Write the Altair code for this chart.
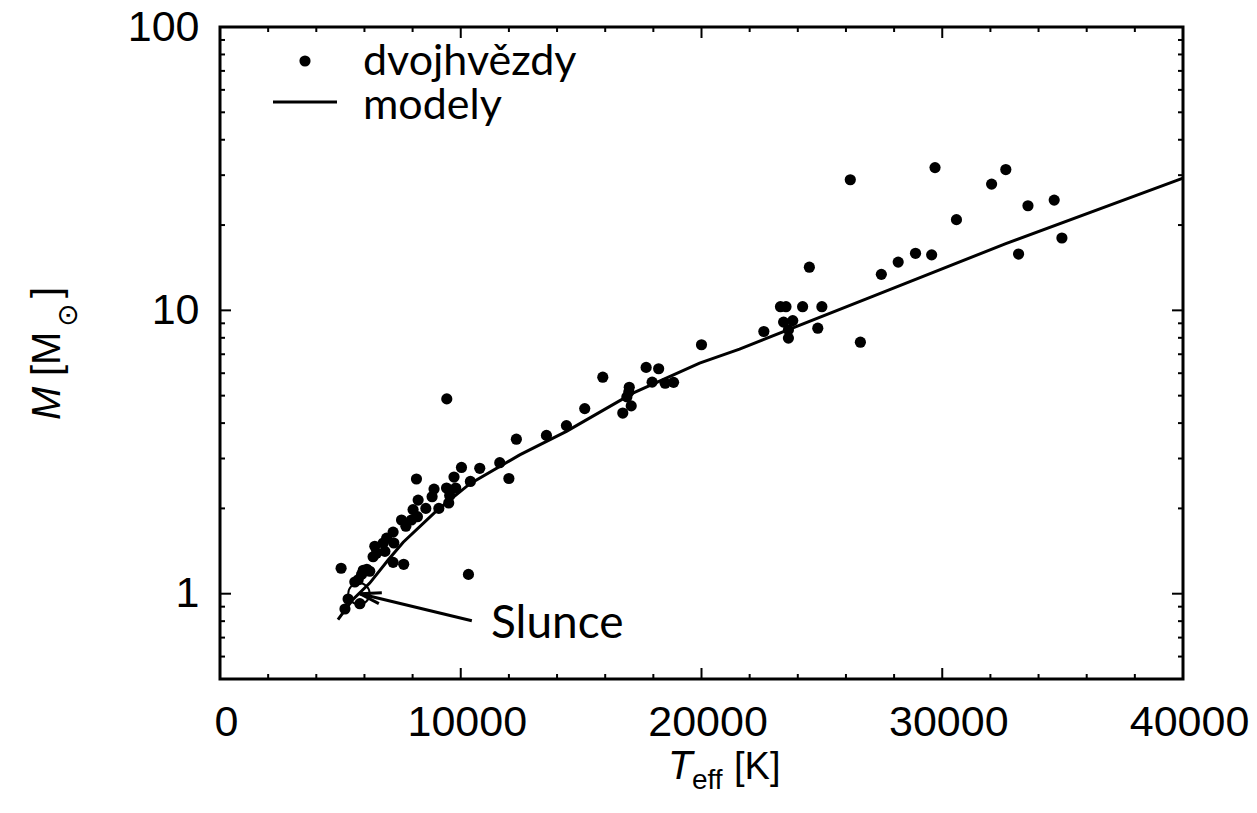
import altair as alt
import pandas as pd

# ---------------- data ----------------
T_STARS = [22590, 23280, 23510, 24200, 25000, 23410, 23790, 23610, 23610, 24830,
           24480, 26600, 26180, 27470, 28170, 28890, 29560, 29700, 30590, 32050,
           32640, 33170, 33560, 34650, 34970,
           20000, 17700, 18220, 17950, 18490, 18840, 15900, 16730, 17080, 16900,
           16980, 17000, 15150, 14390, 13560, 12310, 11620, 12000, 10790, 10030,
           9420, 10320,
           8160, 9720, 10400, 8890, 9410, 9790, 8230, 8810, 9540, 9500,
           8550, 9090, 8020, 8200, 7950, 7540, 7720, 7190, 6920, 7220,
           6780, 6430, 6500, 6850, 6360, 7190, 7630, 5030, 6220, 5950,
           5880, 5740, 5320, 5810, 5190, 5600, 6100]
M_STARS = [8.42, 10.3, 10.3, 10.3, 10.3, 9.09, 9.2, 8.53, 7.98, 8.65,
           14.2, 7.72, 28.9, 13.4, 14.8, 15.9, 15.7, 31.9, 20.9, 27.9,
           31.4, 15.8, 23.4, 24.5, 18.0,
           7.56, 6.29, 6.22, 5.58, 5.53, 5.57, 5.81, 4.34, 4.6, 4.95,
           5.15, 5.35, 4.5, 3.92, 3.62, 3.51, 2.9, 2.55, 2.77, 2.79,
           4.87, 1.17,
           2.54, 2.58, 2.49, 2.34, 2.36, 2.36, 2.14, 2.2, 2.22, 2.09,
           2.0, 2.0, 1.98, 1.87, 1.82, 1.82, 1.73, 1.65, 1.57, 1.51,
           1.51, 1.47, 1.39, 1.41, 1.35, 1.29, 1.27, 1.23, 1.2, 1.21,
           1.17, 1.12, 0.958, 0.922, 0.883, 1.1, 1.22]

T_MODEL = [4900, 5500, 6220, 7000, 7610, 8990, 10370, 12450, 14390, 17150, 19920,
           21580, 27110, 32640, 40000]
M_MODEL = [0.81, 0.95, 1.09, 1.32, 1.52, 1.96, 2.44, 3.09, 3.74, 5.1, 6.51,
           7.3, 11.2, 17.2, 29.3]

SUN_T = [5772]
SUN_M = [1.0]

# arrow: shaft + two barbs (from, to)
ARROW_T1 = [10460, 5810, 5810]
ARROW_M1 = [0.803, 1.0, 1.0]
ARROW_T2 = [5810, 6722, 6598]
ARROW_M2 = [1.0, 1.008, 0.922]

X_MAJOR = [0, 10000, 20000, 30000, 40000]
X_MINOR = [2000, 4000, 6000, 8000, 12000, 14000, 16000, 18000, 22000, 24000,
           26000, 28000, 32000, 34000, 36000, 38000]
Y_MAJOR = [1, 10, 100]
Y_MINOR = [0.6, 0.7, 0.8, 0.9, 2, 3, 4, 5, 6, 7, 8, 9,
           20, 30, 40, 50, 60, 70, 80, 90]

LEGEND_LABELS = ["dvojhvězdy", "modely"]
SUN_LABEL = ["Slunce"]

# ---------------- layout ----------------
W, H = 963, 652
TICK_FONT = "Liberation Sans"
TEXT_FONT = "Lato"

xscale = alt.Scale(domain=[0, 40000], nice=False, zero=False)
yscale = alt.Scale(type="log", domain=[0.5, 100], nice=False)

xaxis = alt.Axis(values=X_MAJOR, format="d", title=None, grid=False, ticks=False,
                 domain=False, labelPadding=22, labelFontSize=43, labelFont=TICK_FONT,
                 labelColor="black", labelFlush=False, labelOffset=6)
yaxis = alt.Axis(values=Y_MAJOR, format="d", title=None, grid=False, ticks=False,
                 domain=False, labelPadding=21, labelFontSize=43, labelFont=TICK_FONT,
                 labelColor="black")

stars = pd.DataFrame({"T": T_STARS, "M": M_STARS})
model = pd.DataFrame({"T": T_MODEL, "M": M_MODEL})
sun = pd.DataFrame({"T": SUN_T, "M": SUN_M})
arrow = pd.DataFrame({"t1": ARROW_T1, "m1": ARROW_M1, "t2": ARROW_T2, "m2": ARROW_M2})

pts = alt.Chart(stars).mark_circle(size=125, color="black", opacity=1).encode(
    x=alt.X("T:Q", scale=xscale, axis=xaxis),
    y=alt.Y("M:Q", scale=yscale, axis=yaxis),
)
line = alt.Chart(model).mark_line(color="black", strokeWidth=3).encode(
    x=alt.X("T:Q", scale=xscale, axis=xaxis),
    y=alt.Y("M:Q", scale=yscale, axis=yaxis),
)
sun_pt = alt.Chart(sun).mark_point(shape="circle", filled=False, size=460,
                                   strokeWidth=2, color="black", opacity=1).encode(
    x=alt.X("T:Q", scale=xscale, axis=xaxis),
    y=alt.Y("M:Q", scale=yscale, axis=yaxis),
)
arr = alt.Chart(arrow).mark_rule(color="black", strokeWidth=3).encode(
    x=alt.X("t1:Q", scale=xscale, axis=xaxis),
    y=alt.Y("m1:Q", scale=yscale, axis=yaxis),
    x2="t2:Q", y2="m2:Q",
)
sun_txt = alt.Chart(pd.DataFrame({"s": SUN_LABEL})).mark_text(
    font=TEXT_FONT, fontSize=46, align="left", baseline="middle", color="black"
).encode(text="s:N", x=alt.value(271), y=alt.value(597))

# inward ticks on all four sides
def xticks(vals, length):
    df = pd.DataFrame({"v": vals})
    b = alt.Chart(df).mark_rule(color="black", strokeWidth=2).encode(
        x=alt.X("v:Q", scale=xscale, axis=xaxis), y=alt.value(H), y2=alt.value(H - length))
    t = alt.Chart(df).mark_rule(color="black", strokeWidth=2).encode(
        x=alt.X("v:Q", scale=xscale, axis=xaxis), y=alt.value(0), y2=alt.value(length))
    return [b, t]

def yticks(vals, length):
    df = pd.DataFrame({"v": vals})
    l = alt.Chart(df).mark_rule(color="black", strokeWidth=2).encode(
        y=alt.Y("v:Q", scale=yscale, axis=yaxis), x=alt.value(0), x2=alt.value(length))
    r = alt.Chart(df).mark_rule(color="black", strokeWidth=2).encode(
        y=alt.Y("v:Q", scale=yscale, axis=yaxis), x=alt.value(W), x2=alt.value(W - length))
    return [l, r]

ticks = xticks(X_MAJOR, 11) + xticks(X_MINOR, 5) + yticks(Y_MAJOR, 11) + yticks(Y_MINOR, 5)

# legend
one = pd.DataFrame({"a": [0]})
leg_dot = alt.Chart(one).mark_circle(size=125, color="black", opacity=1).encode(
    x=alt.value(85), y=alt.value(34))
leg_line = alt.Chart(one).mark_rule(color="black", strokeWidth=3).encode(
    x=alt.value(53), x2=alt.value(117), y=alt.value(75))
leg_t1 = alt.Chart(pd.DataFrame({"s": [LEGEND_LABELS[0]]})).mark_text(
    font=TEXT_FONT, fontSize=43, align="left", baseline="middle", color="black"
).encode(text="s:N", x=alt.value(143), y=alt.value(35))
leg_t2 = alt.Chart(pd.DataFrame({"s": [LEGEND_LABELS[1]]})).mark_text(
    font=TEXT_FONT, fontSize=43, align="left", baseline="middle", color="black"
).encode(text="s:N", x=alt.value(143), y=alt.value(79))

# axis titles built from pieces
def txt(s, x, y, size=40, style="normal", angle=0, font=TICK_FONT, baseline="alphabetic"):
    return alt.Chart(pd.DataFrame({"s": [s]})).mark_text(
        font=font, fontSize=size, fontStyle=style, align="left", baseline=baseline,
        angle=angle, color="black"
    ).encode(text="s:N", x=alt.value(x), y=alt.value(y))

xt = [
    txt("T", 448, 752, 40, "italic"),
    txt("eff", 472, 762, 28),
    txt("[K]", 514, 752, 38),
]
yt = [
    txt("M", -160, 393, 40, "italic", 270),
    txt("[M", -160, 349, 40, "normal", 270),
    txt("⊙", -143, 300, 28, "normal", 270, "DejaVu Sans"),
    txt("]", -160, 271, 40, "normal", 270),
]

chart = alt.layer(
    line, pts, sun_pt, arr, sun_txt, *ticks, leg_dot, leg_line, leg_t1, leg_t2, *xt, *yt
).properties(
    width=W, height=H,
    autosize=alt.AutoSizeParams(type="none"),
    padding={"left": 220, "top": 27, "right": 74, "bottom": 134},
    background="white",
).configure_view(stroke="black", strokeWidth=3)

chart.save("out.html", embed_options={"renderer": "svg", "actions": False})
